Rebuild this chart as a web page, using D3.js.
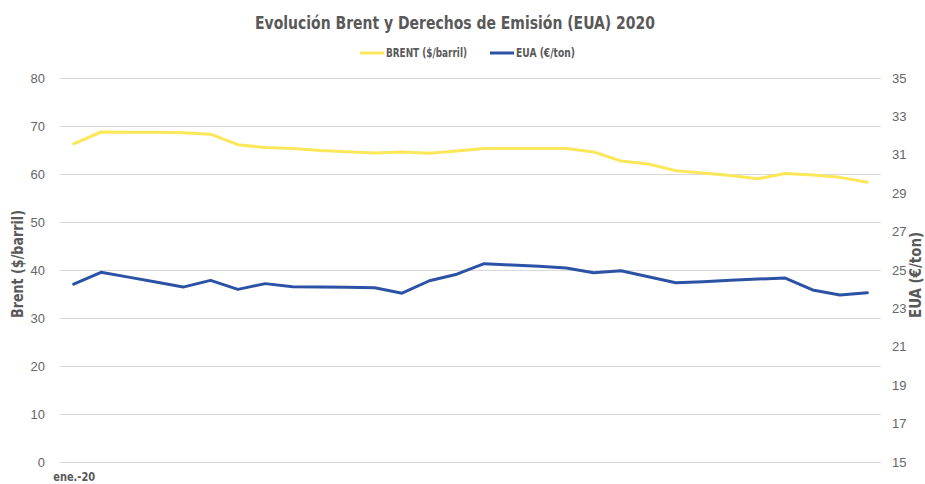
<!DOCTYPE html>
<html>
<head>
<meta charset="utf-8">
<script src="https://cdn.jsdelivr.net/npm/d3@7"></script>
<style>
  html, body { margin: 0; padding: 0; background: #fff; }
  svg { display: block; }
</style>
</head>
<body>
<svg id="chart" width="925" height="484"></svg>
<script>
// ---- data ----
const categories = d3.range(30).map(i => "w" + (i + 1));
const categoryLabels = ["ene.-20"];
const brent = [66.3, 68.75, 68.7, 68.7, 68.6, 68.3, 66.1, 65.5, 65.3, 64.9,
               64.65, 64.4, 64.6, 64.3, 64.8, 65.3, 65.3, 65.3, 65.3, 64.6,
               62.7, 62.1, 60.7, 60.2, 59.7, 59.0, 60.1, 59.8, 59.3, 58.3];
const eua = [24.26, 24.88, 24.63, 24.37, 24.11, 24.46, 23.99, 24.29, 24.13, 24.11,
             24.10, 24.08, 23.79, 24.44, 24.78, 25.33, 25.26, 25.19, 25.10, 24.86,
             24.96, 24.65, 24.34, 24.39, 24.46, 24.53, 24.58, 23.96, 23.70, 23.82];
const leftTicks = [0, 10, 20, 30, 40, 50, 60, 70, 80];
const rightTicks = [15, 17, 19, 21, 23, 25, 27, 29, 31, 33, 35];
const seriesNames = ["BRENT ($/barril)", "EUA (€/ton)"];
const colors = ["#FBE75A", "#2C52A6"];

// ---- layout ----
const svg = d3.select("#chart");
const pL = 60, pR = 881, pT = 78, pB = 462;
const narrowFont = "Liberation Sans Narrow, DejaVu Sans Condensed, Liberation Sans, sans-serif";
const regFont = "Liberation Sans, Arial, sans-serif";

const x = d3.scalePoint().domain(categories).range([pL, pR]).padding(0.5);
const yL = d3.scaleLinear().domain([0, 80]).range([pB, pT]);
const yR = d3.scaleLinear().domain([15, 35]).range([pB, pT]);

// gridlines
svg.append("g").selectAll("line").data(leftTicks).join("line")
  .attr("x1", pL).attr("x2", pR)
  .attr("y1", d => yL(d) + 0.5).attr("y2", d => yL(d) + 0.5)
  .attr("stroke", "#d9d9d9").attr("stroke-width", 1);

// left axis
const axL = svg.append("g").attr("transform", `translate(${pL - 15},0)`)
  .call(d3.axisLeft(yL).tickValues(leftTicks).tickSize(0).tickPadding(0));
axL.select(".domain").remove();
axL.selectAll("text").attr("fill", "#666").attr("font-size", 13)
  .attr("font-family", regFont);

// right axis
const axR = svg.append("g").attr("transform", `translate(${pR + 11},0)`)
  .call(d3.axisRight(yR).tickValues(rightTicks).tickSize(0).tickPadding(0));
axR.select(".domain").remove();
axR.selectAll("text").attr("fill", "#666").attr("font-size", 13)
  .attr("font-family", regFont);

// x axis label (only first category labelled)
const axX = svg.append("g").attr("transform", `translate(0,${pB + 10})`)
  .call(d3.axisBottom(x).tickValues([categories[0]]).tickFormat((d, i) => categoryLabels[i]).tickSize(0).tickPadding(0));
axX.select(".domain").remove();
axX.selectAll("text").attr("fill", "#595959")
  .attr("font-size", 12).attr("font-weight", "bold")
  .attr("font-family", narrowFont)
  .attr("textLength", 42).attr("lengthAdjust", "spacingAndGlyphs");

// lines
const lineL = d3.line().x((d, i) => x(categories[i])).y(d => yL(d));
const lineR = d3.line().x((d, i) => x(categories[i])).y(d => yR(d));
svg.append("path").datum(brent).attr("d", lineL)
  .attr("fill", "none").attr("stroke", colors[0]).attr("stroke-width", 3)
  .attr("stroke-linejoin", "round").attr("stroke-linecap", "round");
svg.append("path").datum(eua).attr("d", lineR)
  .attr("fill", "none").attr("stroke", colors[1]).attr("stroke-width", 3)
  .attr("stroke-linejoin", "round").attr("stroke-linecap", "round");

// title
svg.append("text")
  .attr("x", 455).attr("y", 29).attr("text-anchor", "middle")
  .attr("font-family", narrowFont)
  .attr("font-size", 17).attr("font-weight", "bold").attr("fill", "#595959")
  .attr("textLength", 400).attr("lengthAdjust", "spacingAndGlyphs")
  .text("Evolución Brent y Derechos de Emisión (EUA) 2020");

// legend
const legX = [360, 490];
const legW = [81, 59];
seriesNames.forEach((name, i) => {
  const g = svg.append("g").attr("transform", `translate(${legX[i]},53)`);
  g.append("line").attr("x1", 0).attr("x2", 24).attr("y1", 0).attr("y2", 0)
    .attr("stroke", colors[i]).attr("stroke-width", 3);
  g.append("text").attr("x", 26).attr("y", 4)
    .attr("font-family", narrowFont)
    .attr("font-size", 11.5).attr("font-weight", "bold").attr("fill", "#595959")
    .attr("textLength", legW[i]).attr("lengthAdjust", "spacingAndGlyphs")
    .text(name);
});

// axis titles
svg.append("text")
  .attr("transform", `translate(23,${(pT + pB) / 2 - 6}) rotate(-90)`)
  .attr("font-family", narrowFont)
  .attr("text-anchor", "middle").attr("font-size", 15).attr("font-weight", "bold")
  .attr("fill", "#595959")
  .attr("textLength", 108).attr("lengthAdjust", "spacingAndGlyphs")
  .text("Brent ($/barril)");
svg.append("text")
  .attr("transform", `translate(921,${(pT + pB) / 2 + 5}) rotate(-90)`)
  .attr("font-family", narrowFont)
  .attr("text-anchor", "middle").attr("font-size", 15).attr("font-weight", "bold")
  .attr("fill", "#595959")
  .attr("textLength", 86).attr("lengthAdjust", "spacingAndGlyphs")
  .text("EUA (€/ton)");
</script>
</body>
</html>
